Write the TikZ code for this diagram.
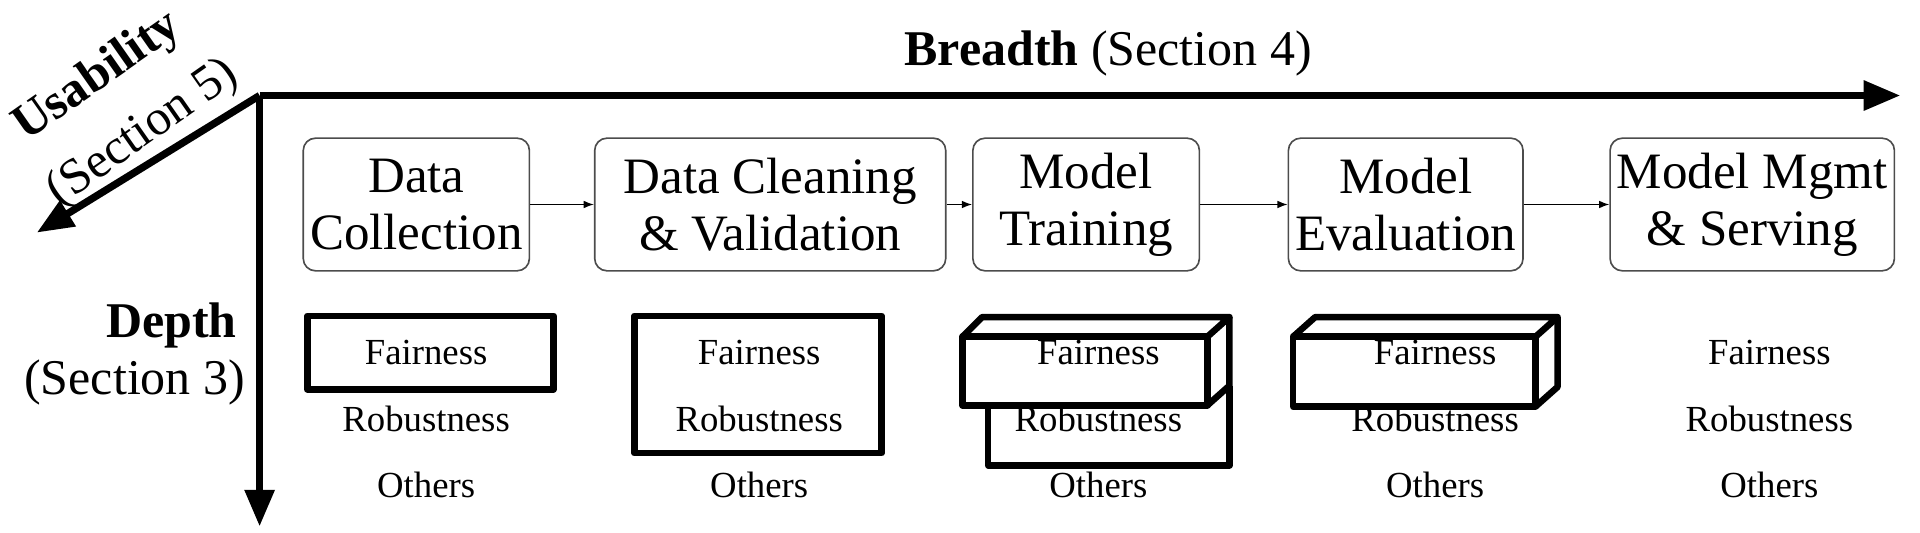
\documentclass[tikz,border=0pt]{standalone}
\usepackage{fontspec}
\setmainfont{Liberation Serif}
\usetikzlibrary{arrows.meta}
\tikzset{
  axis/.style={line width=3.6pt, -{Triangle[length=18pt,width=14pt]}},
  stage/.style={draw=black!70, line width=0.8pt, rounded corners=6pt, align=center, font=\fontsize{25}{28}\selectfont, minimum height=65pt},
  flow/.style={line width=0.6pt, -{Latex[length=5pt]}},
  issue/.style={font=\fontsize{18}{20}\selectfont},
  axlabel/.style={font=\fontsize{24.5}{28}\selectfont},
  frame/.style={line width=3.2pt, line join=round},
}
\begin{document}
\begin{tikzpicture}[x=0.6pt,y=-0.6pt]
		%%%%% AXES %%%%%
		\useasboundingbox (0,0) rectangle (1568,435);
		\coordinate (corner) at (212,78);
		\coordinate (bend) at (1552,78);
		\coordinate (down) at (212,430);
		\coordinate (side) at (30,190);
		\draw[axis] (corner) -- (bend);
		\draw[axis] (corner) -- (down);
		\draw[axis] (corner) -- (side);
		\node[axlabel] (breadth) at (905,44) {\textbf{Breadth} (Section 4)};
		\node[axlabel] (depth) at (140,266) {\textbf{Depth}};
		\node[axlabel] (depthsec) at (110,312) {(Section 3)};
		\node[axlabel, rotate=35] (usab) at (80,63) {\textbf{Usability}};
		\node[axlabel, rotate=35] (usabsec) at (117,109) {(Section 5)};
		
		%%%%% STAGES %%%%%
		\node[stage, minimum width=110pt] (collect) at (340,167) {Data\\Collection};
		\node[stage, minimum width=172pt] (clean) at (629,167) {Data Cleaning\\\& Validation};
		\node[stage, minimum width=111pt] (train) at (887,167) {Model\\Training};
		\node[stage, minimum width=110pt] (eval) at (1148,167) {Model\\Evaluation};
		\node[stage, minimum width=136pt] (serve) at (1431,167) {Model Mgmt\\\& Serving};
		\draw[flow] (collect) -- (clean);
		\draw[flow] (clean) -- (train);
		\draw[flow] (train) -- (eval);
		\draw[flow] (eval) -- (serve);
		
		%%%%% ISSUES %%%%%
		\foreach \n/\x in {collect/348, clean/620, train/897, eval/1172, serve/1445} {
			\node[issue] (fair-\n) at (\x,288) {Fairness};
			\node[issue] (rob-\n) at (\x,342) {Robustness};
			\node[issue] (oth-\n) at (\x,396) {Others};
		}
		\draw[frame] (251,258) rectangle (452,318);
		\draw[frame] (518,258) rectangle (720,370);
		% model training: stacked box
		\draw[frame] (807,331) -- (807,380) -- (1004,380) -- (1004,315);
		\draw[frame] (786,275) rectangle (986,331);
		\draw[frame] (786,275) -- (802,259) -- (1004,259) -- (986,275);
		\draw[frame] (1004,259) -- (1004,315) -- (986,331);
		% model evaluation: box
		\draw[frame] (1056,275) rectangle (1254,332);
		\draw[frame] (1056,275) -- (1074,259) -- (1272,259) -- (1254,275);
		\draw[frame] (1272,259) -- (1272,316) -- (1254,332);
\end{tikzpicture}
\end{document}
